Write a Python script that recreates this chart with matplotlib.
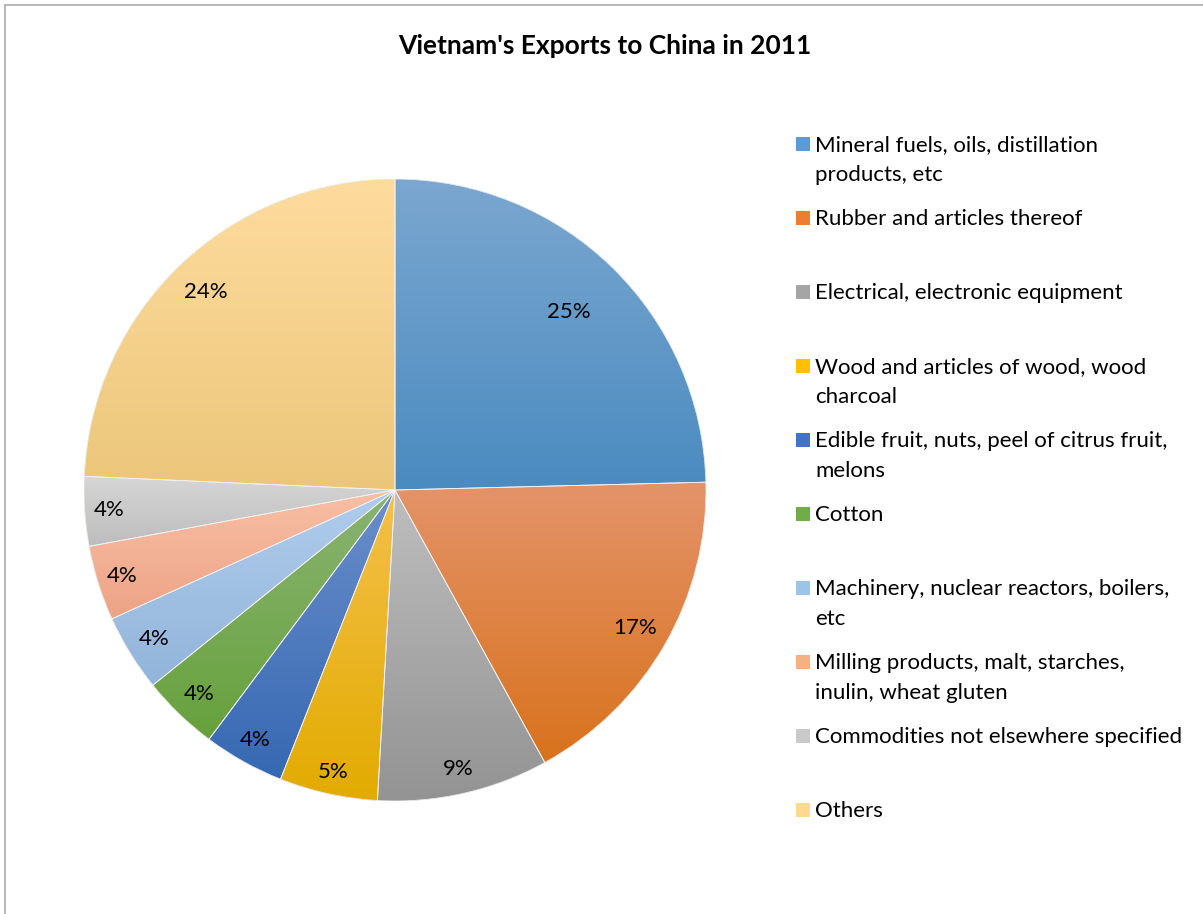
import numpy as np
import matplotlib
matplotlib.use("Agg")
import matplotlib.pyplot as plt
from matplotlib.colors import LinearSegmentedColormap
from matplotlib.lines import Line2D
from matplotlib.patches import Rectangle, Wedge

# Shares of Vietnam's exports to China, 2011 (%)
categories = [
    "Mineral fuels, oils, distillation\nproducts, etc",
    "Rubber and articles thereof",
    "Electrical, electronic equipment",
    "Wood and articles of wood, wood\ncharcoal",
    "Edible fruit, nuts, peel of citrus fruit,\nmelons",
    "Cotton",
    "Machinery, nuclear reactors, boilers,\netc",
    "Milling products, malt, starches,\ninulin, wheat gluten",
    "Commodities not elsewhere specified",
    "Others",
]
shares = [24.6, 17.4, 8.9, 5.1, 4.2, 4.0, 4.0, 3.9, 3.6, 24.3]

# gradient colours per slice (top, bottom)
top_colors = ["#7BA7D0", "#E4936A", "#BEBEBE", "#F4C04A", "#6A8FCB",
              "#8AB472", "#B0CDEC", "#F8BFA5", "#D6D6D6", "#FEDC9E"]
bottom_colors = ["#4A8BC0", "#D8721C", "#939393", "#E2AB00", "#3668B2",
                 "#66A13C", "#92B4DA", "#EDA385", "#BDBDBD", "#EBC67A"]
legend_colors = ["#5B9BD5", "#ED7D31", "#A5A5A5", "#FFC000", "#4472C4",
                 "#70AD47", "#9DC3E6", "#F4B183", "#C9C9C9", "#FFD98E"]
label_radius = [0.80, 0.89, 0.92, 0.93, 0.92, 0.91, 0.91, 0.92, 0.92, 0.88]

plt.rcParams["font.family"] = ["Lato", "DejaVu Sans"]

W, H = 1203, 914
fig = plt.figure(figsize=(W / 100, H / 100), dpi=100)

# pie axes: centre (395, 490) px, radius 311 px
cx, cy, r = 395, 490, 311
ax = fig.add_axes([(cx - r) / W, 1 - (cy + r) / H, 2 * r / W, 2 * r / H])
wedges, texts, autotexts = ax.pie(
    shares, startangle=90, counterclock=False, radius=1,
    autopct=lambda p: "%.0f%%" % p, pctdistance=0.88,
    wedgeprops=dict(linewidth=0), textprops=dict(fontsize=16, color="#000000"))
ax.set_aspect("equal")
ax.axis("off")

grad = np.linspace(1, 0, 256).reshape(-1, 1)
for i, w in enumerate(wedges):
    ext = w.get_path().get_extents()
    cmap = LinearSegmentedColormap.from_list("g%d" % i, [bottom_colors[i], top_colors[i]])
    im = ax.imshow(grad, cmap=cmap, vmin=0, vmax=1, aspect="auto",
                   extent=[ext.x0, ext.x1, ext.y0, ext.y1], origin="upper", zorder=2)
    im.set_clip_path(w)
    ax.add_patch(Wedge(w.center, w.r, w.theta1, w.theta2, facecolor="none",
                       edgecolor="#F2F2F2", linewidth=0.6, zorder=3))
    mid = np.deg2rad((w.theta1 + w.theta2) / 2)
    t = autotexts[i]
    t.set_position((label_radius[i] * np.cos(mid), label_radius[i] * np.sin(mid)))
    t.set_zorder(4)
ax.set_xlim(-1, 1)
ax.set_ylim(-1, 1)

# title
fig.text(605 / W, 1 - 46 / H, "Vietnam's Exports to China in 2011",
         ha="center", va="center", fontsize=19, fontweight="bold")

# legend drawn by hand to match the spacing
for i, lab in enumerate(categories):
    yc = 144 + 74 * i
    fig.add_artist(Rectangle((796 / W, 1 - (yc + 7) / H), 14 / W, 14 / H,
                             transform=fig.transFigure, facecolor=legend_colors[i],
                             edgecolor="none"))
    for k, line in enumerate(lab.split("\n")):
        fig.text(815 / W, 1 - (yc + 30 * k + 7) / H, line, ha="left", va="baseline",
                 fontsize=16, color="#000000")

# chart area border (only top and left visible)
fig.add_artist(Line2D([5 / W, 5 / W], [0, 1 - 5 / H], transform=fig.transFigure,
                      color="#B3B3B3", linewidth=1.3))
fig.add_artist(Line2D([5 / W, 1], [1 - 5 / H, 1 - 5 / H], transform=fig.transFigure,
                      color="#B3B3B3", linewidth=1.3))

fig.savefig("out.png", dpi=100)
